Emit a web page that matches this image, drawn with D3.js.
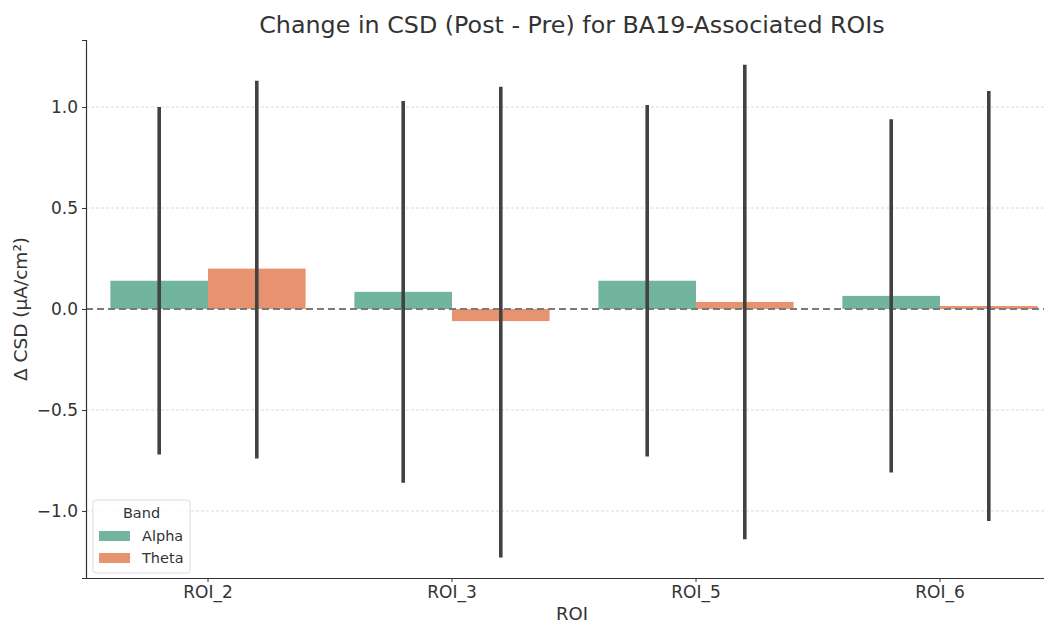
<!DOCTYPE html>
<html>
<head>
<meta charset="utf-8">
<script src="https://cdn.jsdelivr.net/npm/d3@7"></script>
<style>
  body { margin: 0; background: #fff; }
  svg { display: block; font-family: "DejaVu Sans", sans-serif; }
</style>
</head>
<body>
<svg id="chart" width="1044" height="625"></svg>
<script>
// values
let rois = ["ROI_2", "ROI_3", "ROI_5", "ROI_6"];
let bands = ["Alpha", "Theta"];
let alphaMean = [0.14, 0.085, 0.14, 0.065];
let thetaMean = [0.20, -0.06, 0.035, 0.015];
let alphaLow = [-0.72, -0.86, -0.73, -0.81];
let alphaHigh = [1.00, 1.03, 1.01, 0.94];
let thetaLow = [-0.74, -1.23, -1.14, -1.05];
let thetaHigh = [1.13, 1.10, 1.21, 1.08];
let yTicks = [-1.0, -0.5, 0.0, 0.5, 1.0];

let colors = {Alpha: "#71b59e", Theta: "#e8936f"};

let rows = [];
rois.forEach((roi, i) => {
  rows.push({roi: roi, band: "Alpha", mean: alphaMean[i], lo: alphaLow[i], hi: alphaHigh[i]});
  rows.push({roi: roi, band: "Theta", mean: thetaMean[i], lo: thetaLow[i], hi: thetaHigh[i]});
});

let svg = d3.select("#chart");
let mLeft = 86, mTop = 40, mBottom = 578, mRight = 1062;

let x = d3.scaleBand().domain(rois).range([mLeft, mRight]).paddingInner(0.2).paddingOuter(0.1);
let xb = d3.scaleBand().domain(bands).range([0, x.bandwidth()]);
let y = d3.scaleLinear().domain([-1.332, 1.332]).range([mBottom, mTop]);

// grid
svg.append("g").selectAll("line")
  .data(yTicks.filter(d => d !== 0))
  .enter().append("line")
  .attr("x1", mLeft).attr("x2", 1044)
  .attr("y1", d => y(d)).attr("y2", d => y(d))
  .attr("stroke", "#d0d0d0").attr("stroke-width", 0.8)
  .attr("stroke-dasharray", "3,2");

// bars
svg.append("g").selectAll("rect")
  .data(rows)
  .enter().append("rect")
  .attr("x", d => x(d.roi) + xb(d.band))
  .attr("width", xb.bandwidth())
  .attr("y", d => y(Math.max(0, d.mean)))
  .attr("height", d => Math.abs(y(d.mean) - y(0)))
  .attr("fill", d => colors[d.band]);

// zero line
svg.append("line")
  .attr("x1", mLeft).attr("x2", 1044)
  .attr("y1", y(0)).attr("y2", y(0))
  .attr("stroke", "#7a7a7a").attr("stroke-width", 2)
  .attr("stroke-dasharray", "7,4");

// error bars
svg.append("g").selectAll("line")
  .data(rows)
  .enter().append("line")
  .attr("x1", d => x(d.roi) + xb(d.band) + xb.bandwidth() / 2)
  .attr("x2", d => x(d.roi) + xb(d.band) + xb.bandwidth() / 2)
  .attr("y1", d => y(d.lo)).attr("y2", d => y(d.hi))
  .attr("stroke", "#424242").attr("stroke-width", 3.6);

// axes
let yAxis = d3.axisLeft(y).tickValues(yTicks).tickSize(4).tickPadding(4)
  .tickFormat(d => d3.format(".1f")(d).replace("-", "\u2212"));
let gy = svg.append("g").attr("transform", `translate(${mLeft},0)`).call(yAxis);
let xAxis = d3.axisBottom(x).tickSize(4).tickPadding(4);
let gx = svg.append("g").attr("transform", `translate(0,${mBottom})`).call(xAxis);
gx.select(".domain").attr("d", `M${mLeft},0.5H1044`);
[gx, gy].forEach(g => {
  g.select(".domain").attr("stroke", "#333").attr("stroke-width", 1.2);
  g.selectAll(".tick line").attr("stroke", "#333").attr("stroke-width", 1);
  g.selectAll(".tick text").attr("font-size", 17).attr("fill", "#333")
    .attr("font-family", "DejaVu Sans");
});

// title and labels
svg.append("text").attr("x", 572).attr("y", 33).attr("text-anchor", "middle")
  .attr("font-size", 23.8).attr("fill", "#333")
  .text("Change in CSD (Post - Pre) for BA19-Associated ROIs");
svg.append("text").attr("x", 572).attr("y", 620).attr("text-anchor", "middle")
  .attr("font-size", 18).attr("fill", "#333").text("ROI");
svg.append("text").attr("transform", `translate(27,309) rotate(-90)`)
  .attr("text-anchor", "middle").attr("font-size", 18.5).attr("fill", "#333")
  .text("\u0394 CSD (\u03bcA/cm\u00b2)");

// legend
let lg = svg.append("g").attr("transform", "translate(93,500)");
lg.append("rect").attr("width", 97).attr("height", 73).attr("rx", 3)
  .attr("fill", "#fff").attr("fill-opacity", 0.8)
  .attr("stroke", "#dcdcdc").attr("stroke-width", 1);
lg.append("text").attr("x", 48.5).attr("y", 18).attr("text-anchor", "middle")
  .attr("font-size", 14.5).attr("fill", "#333").text("Band");
bands.forEach((b, i) => {
  lg.append("rect").attr("x", 6).attr("y", 31 + i * 22).attr("width", 31).attr("height", 10)
    .attr("fill", colors[b]);
  lg.append("text").attr("x", 49).attr("y", 41 + i * 22)
    .attr("font-size", 14.5).attr("fill", "#333").text(b);
});
</script>
</body>
</html>
